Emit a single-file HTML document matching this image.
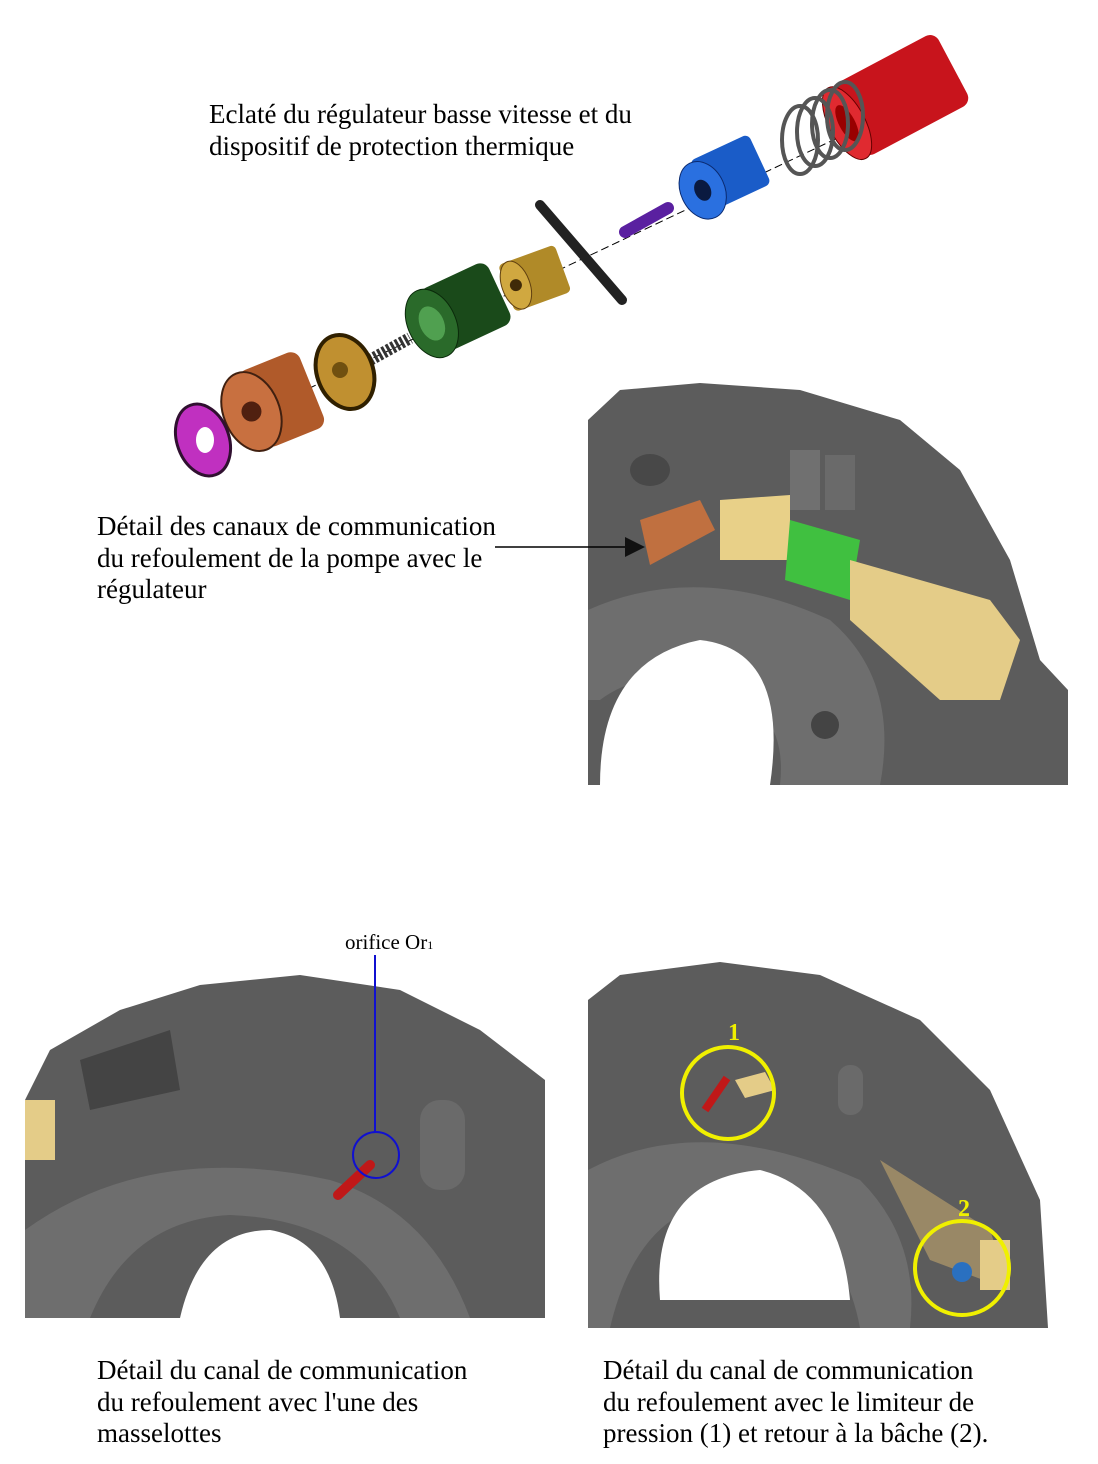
<!DOCTYPE html>
<html><head><meta charset="utf-8"><style>
body{margin:0;background:#fff;width:1098px;height:1464px;overflow:hidden;position:relative;font-family:"Liberation Serif",serif;}
.t{position:absolute;font-size:27px;line-height:31.5px;color:#000;white-space:nowrap;}
svg{position:absolute;left:0;top:0;}
</style></head><body>
<svg width="1098" height="1464" viewBox="0 0 1098 1464">
<line x1="200" y1="440" x2="960" y2="80" stroke="#000" stroke-dasharray="8,4" stroke-width="1"/>
<g transform="rotate(-28 900 95)">
<rect x="840" y="55" width="120" height="80" rx="10" fill="#c8141c"/>
<ellipse cx="840" cy="95" rx="18" ry="40" fill="#e02a30" stroke="#600" />
<ellipse cx="840" cy="95" rx="8" ry="20" fill="#900"/>
</g>
<g fill="none" stroke="#555" stroke-width="4">
<ellipse cx="800" cy="140" rx="18" ry="34"/><ellipse cx="815" cy="132" rx="18" ry="34"/><ellipse cx="830" cy="124" rx="18" ry="34"/><ellipse cx="845" cy="116" rx="18" ry="34"/>
</g>
<g transform="rotate(-25 720 180)">
<rect x="700" y="150" width="65" height="55" rx="6" fill="#1a5cc8"/>
<ellipse cx="700" cy="182" rx="22" ry="30" fill="#2a70e0" stroke="#0a2a70"/>
<ellipse cx="700" cy="182" rx="8" ry="11" fill="#0a1a40"/>
</g>
<line x1="625" y1="232" x2="668" y2="208" stroke="#5a20a0" stroke-width="12" stroke-linecap="round"/>
<line x1="540" y1="205" x2="622" y2="300" stroke="#222" stroke-width="10" stroke-linecap="round"/>
<g transform="rotate(-20 530 280)">
<rect x="505" y="255" width="60" height="50" rx="5" fill="#b08a28"/>
<ellipse cx="515" cy="280" rx="14" ry="25" fill="#d0a840" stroke="#604010"/>
<circle cx="515" cy="280" r="6" fill="#402a08"/>
</g>
<g transform="rotate(-25 450 315)">
<rect x="430" y="280" width="75" height="68" rx="10" fill="#1a4a1a"/>
<ellipse cx="430" cy="315" rx="24" ry="36" fill="#2a6a2a" stroke="#0a2a0a"/>
<ellipse cx="430" cy="315" rx="12" ry="18" fill="#50a050"/>
</g>
<line x1="370" y1="360" x2="410" y2="338" stroke="#333" stroke-width="12" stroke-dasharray="3,2"/>
<ellipse cx="345" cy="372" rx="28" ry="38" fill="#c09030" stroke="#302000" stroke-width="4" transform="rotate(-20 345 372)"/>
<circle cx="340" cy="370" r="8" fill="#705010"/>
<g transform="rotate(-22 265 405)">
<rect x="250" y="365" width="65" height="82" rx="10" fill="#b05a2a"/>
<ellipse cx="250" cy="406" rx="28" ry="41" fill="#c87040" stroke="#402010" stroke-width="2"/>
<circle cx="250" cy="406" r="10" fill="#502010"/>
</g>
<ellipse cx="203" cy="440" rx="26" ry="37" fill="#c030c0" stroke="#301030" stroke-width="3" transform="rotate(-20 203 440)"/>
<ellipse cx="205" cy="440" rx="9" ry="13" fill="#fff"/>

<path d="M588 420 L620 390 L700 383 L800 390 L900 420 L960 470 L1010 560 L1040 660 L1068 690 L1068 785 L588 785 Z" fill="#5c5c5c"/>
<path d="M588 610 Q700 560 830 620 Q900 680 880 785 L780 785 Q790 700 700 680 Q640 670 600 700 L588 700 Z" fill="#6e6e6e"/>
<path d="M600 785 Q600 660 700 640 Q790 650 770 785 Z" fill="#fff"/>
<ellipse cx="650" cy="470" rx="20" ry="16" fill="#484848"/>
<ellipse cx="825" cy="725" rx="14" ry="14" fill="#444"/>
<rect x="790" y="450" width="30" height="60" fill="#707070"/><rect x="825" y="455" width="30" height="55" fill="#6a6a6a"/>
<path d="M640 520 L700 500 L715 530 L650 565 Z" fill="#c07040"/>
<path d="M720 500 L790 495 L790 560 L720 560 Z" fill="#e8d088"/>
<path d="M790 520 L860 540 L850 600 L785 580 Z" fill="#40c040"/>
<path d="M850 560 L990 600 L1020 640 L1000 700 L940 700 L850 620 Z" fill="#e4cc88"/>
<line x1="495" y1="547" x2="628" y2="547" stroke="#000" stroke-width="1.5"/>
<polygon points="645,547 625,537 625,557" fill="#111"/>

<path d="M25 1100 L50 1050 L120 1010 L200 985 L300 975 L400 990 L480 1030 L545 1080 L545 1318 L25 1318 Z" fill="#5c5c5c"/>
<path d="M25 1230 Q150 1140 330 1180 Q430 1210 470 1318 L400 1318 Q360 1220 230 1215 Q130 1220 90 1318 L25 1318 Z" fill="#6e6e6e"/>
<path d="M180 1318 Q200 1230 270 1230 Q330 1240 340 1318 Z" fill="#fff"/>
<path d="M80 1060 L170 1030 L180 1090 L90 1110 Z" fill="#444"/>
<rect x="420" y="1100" width="45" height="90" rx="20" fill="#6a6a6a"/>
<path d="M25 1100 L55 1100 L55 1160 L25 1160 Z" fill="#e4cc88"/>
<line x1="338" y1="1195" x2="370" y2="1165" stroke="#c01818" stroke-width="10" stroke-linecap="round"/>
<line x1="375" y1="955" x2="375" y2="1133" stroke="#1010d0" stroke-width="2"/>
<circle cx="376" cy="1155" r="23" fill="none" stroke="#1010d0" stroke-width="2"/>

<path d="M588 1000 L620 975 L720 962 L820 975 L920 1020 L990 1090 L1040 1200 L1048 1328 L588 1328 Z" fill="#5c5c5c"/>
<path d="M588 1170 Q700 1110 860 1180 Q920 1240 910 1328 L860 1328 Q840 1220 740 1200 Q640 1200 610 1328 L588 1328 Z" fill="#6e6e6e"/>
<path d="M660 1300 Q650 1180 760 1170 Q840 1190 850 1300 Z" fill="#fff"/>
<rect x="838" y="1065" width="25" height="50" rx="12" fill="#6a6a6a"/>
<line x1="705" y1="1110" x2="727" y2="1078" stroke="#c01818" stroke-width="8"/>
<polygon points="735,1080 765,1072 775,1090 745,1098" fill="#e4cc88"/>
<path d="M880 1160 L990 1230 L1010 1290 L930 1260 Z" fill="#998866"/>
<rect x="980" y="1240" width="30" height="50" fill="#e4cc88"/>
<circle cx="962" cy="1272" r="10" fill="#2a70c0"/>
<circle cx="728" cy="1093" r="46" fill="none" stroke="#f0f000" stroke-width="4"/>
<circle cx="962" cy="1268" r="47" fill="none" stroke="#f0f000" stroke-width="4"/>
<text x="728" y="1040" font-family="Liberation Serif" font-weight="bold" font-size="24" fill="#f0f000">1</text>
<text x="958" y="1216" font-family="Liberation Serif" font-weight="bold" font-size="24" fill="#f0f000">2</text>
</svg>

<div class="t" style="left:209px;top:99px">Eclaté du régulateur basse vitesse et du<br>dispositif de protection thermique</div>
<div class="t" style="left:97px;top:511px">Détail des canaux de communication<br>du refoulement de la pompe avec le<br>régulateur</div>
<div class="t" style="left:345px;top:929px;font-size:21px;line-height:26px">orifice Or<span style="font-size:12px">1</span></div>
<div class="t" style="left:97px;top:1355px">Détail du canal de communication<br>du refoulement avec l'une des<br>masselottes</div>
<div class="t" style="left:603px;top:1355px">Détail du canal de communication<br>du refoulement avec le limiteur de<br>pression (1) et retour à la bâche (2).</div>
</body></html>
